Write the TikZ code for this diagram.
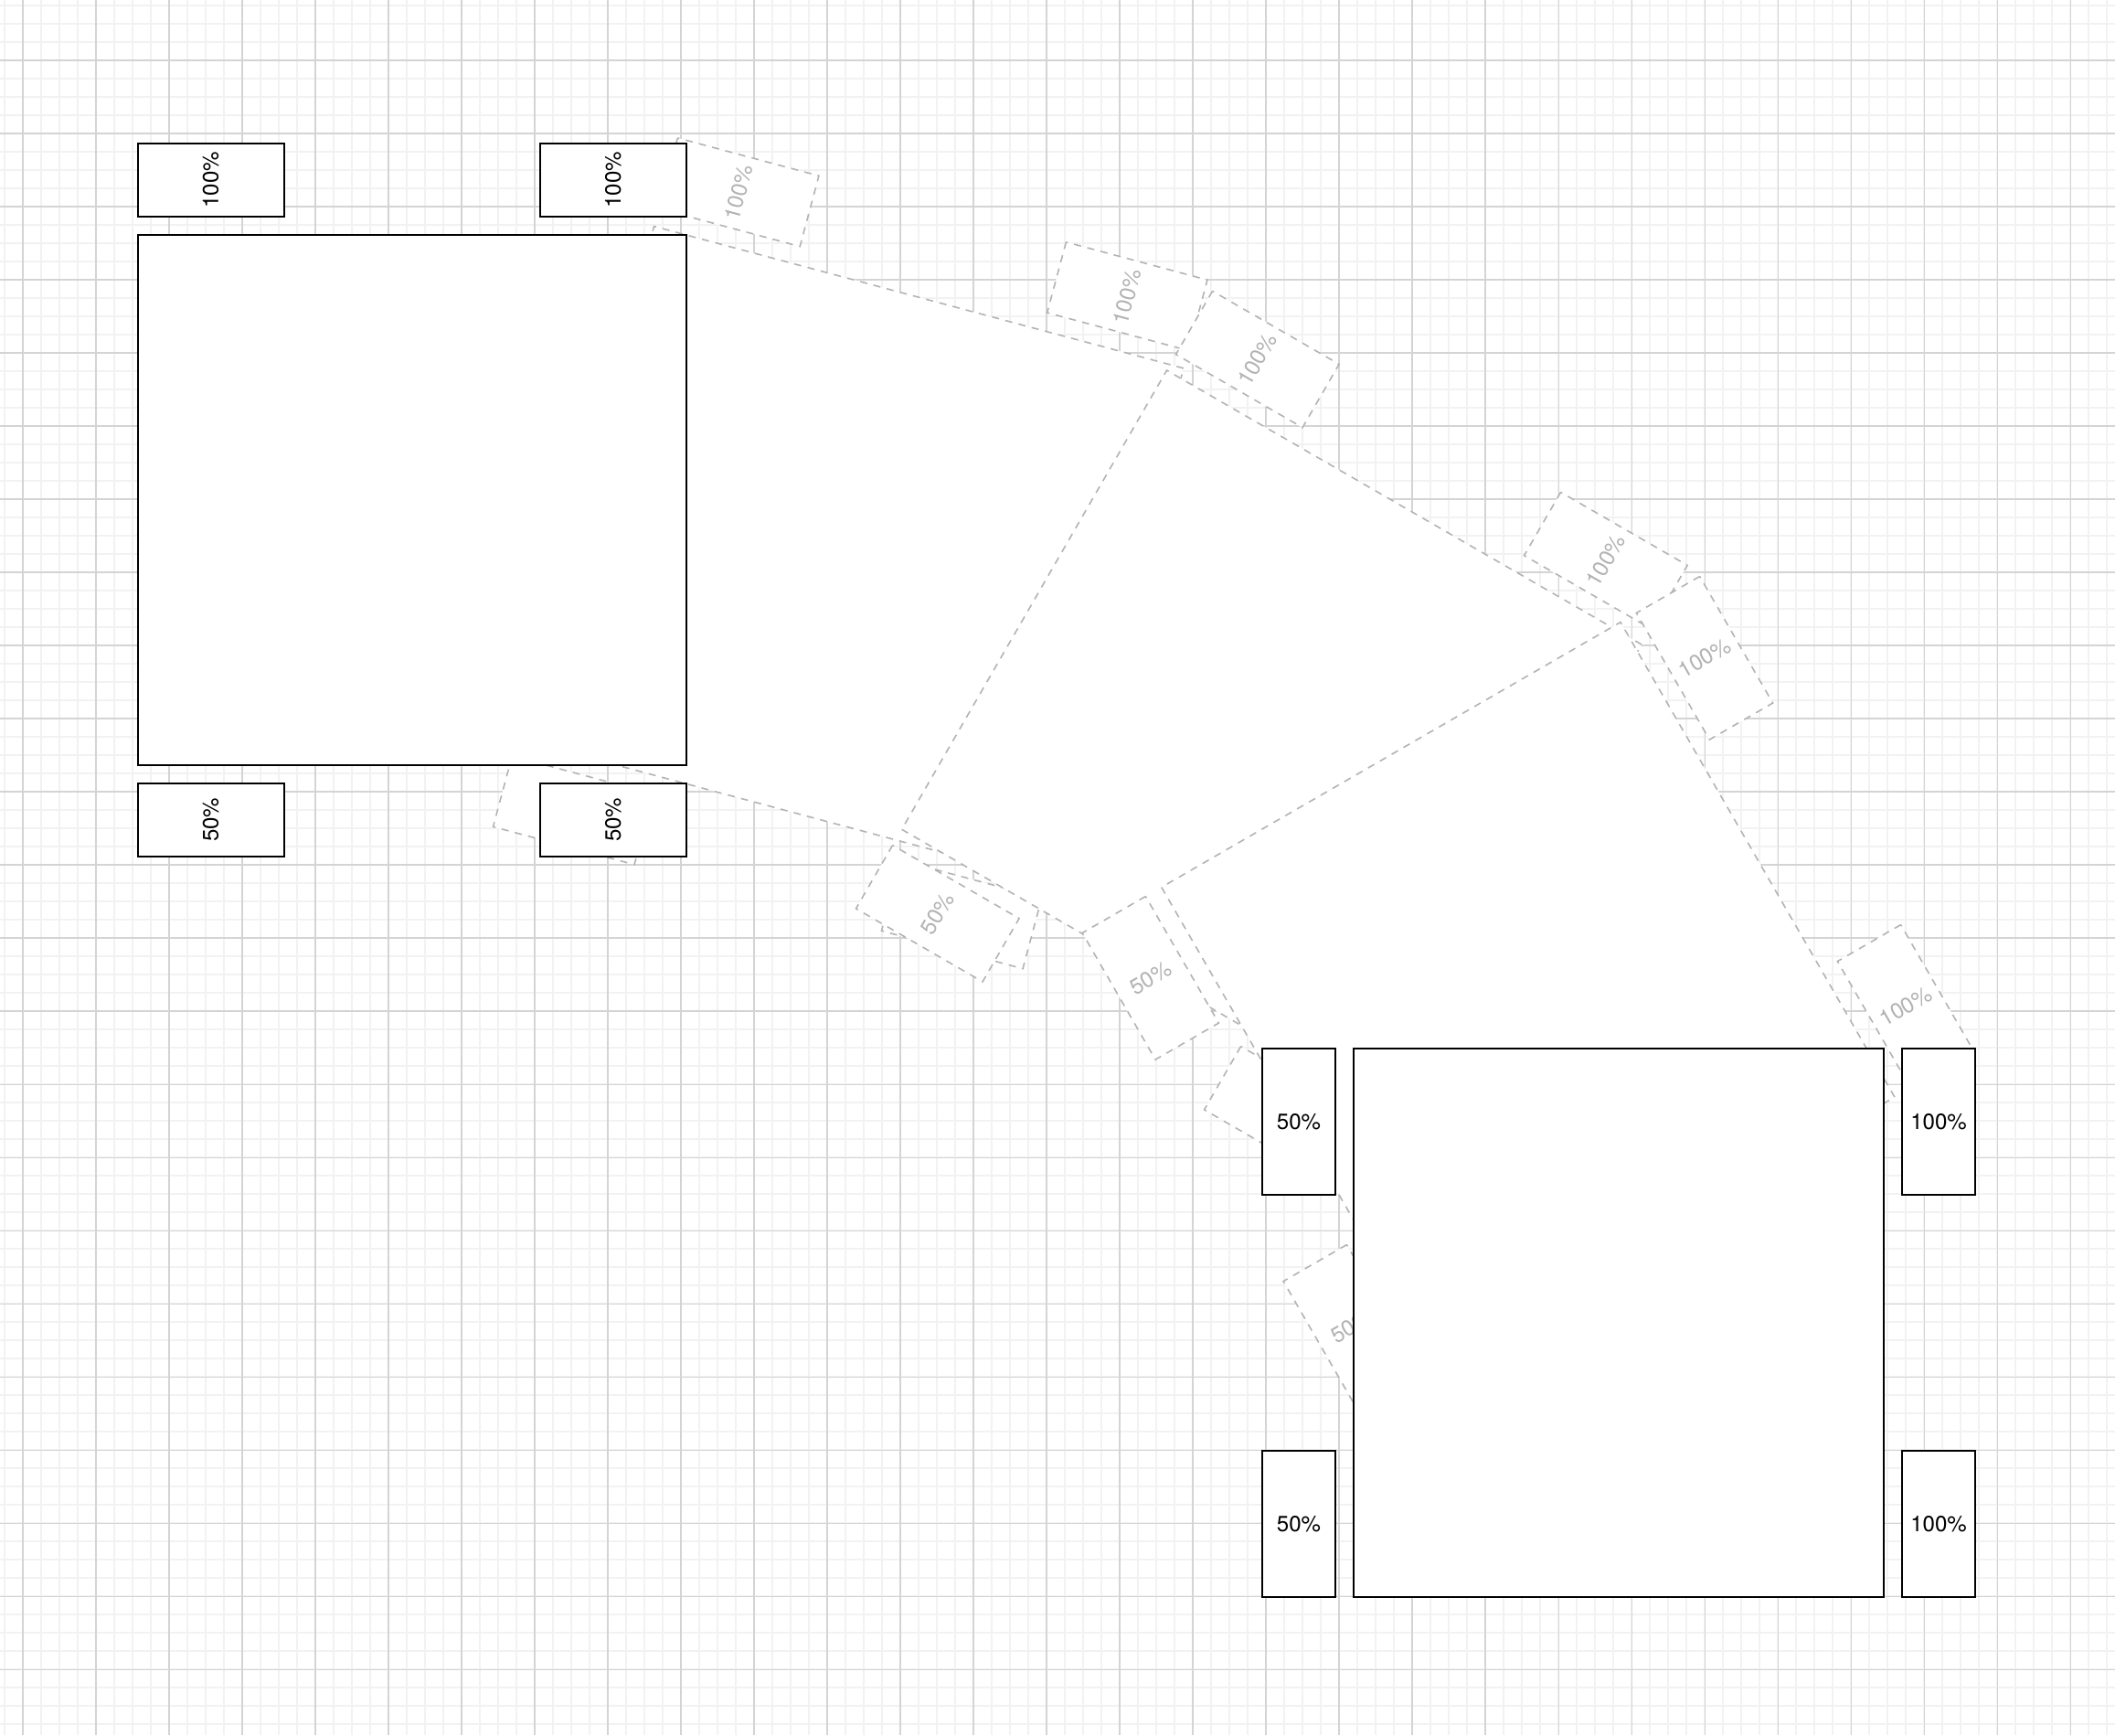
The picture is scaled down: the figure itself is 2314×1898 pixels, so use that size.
\documentclass[tikz,border=0pt]{standalone}
\usepackage{fontspec}
\setmainfont{TeX Gyre Heros}
\usepackage{xcolor}
\usepackage{tikz}
\definecolor{minorgrid}{HTML}{F2F2F2}
\definecolor{majorgrid}{HTML}{D4D4D4}
\definecolor{ghostgray}{HTML}{B3B3B3}
\tikzset{
    solid part/.style={draw=black, line width=1.15pt, fill=white, text=black},
    ghost part/.style={draw=ghostgray, dash pattern=on 4.5pt off 4pt, line width=0.9pt, fill=white, text=ghostgray},
    group part/.style={solid part},
    table box/.style={group part, minimum width=12cm, minimum height=11.6cm, inner sep=0pt},
    pct box/.style={group part, minimum width=1.6cm, minimum height=3.2cm, inner sep=0pt, rotate=90, font=\fontsize{13.7}{16}\selectfont},
    minor line/.style={draw=minorgrid, line width=0.9pt},
    major line/.style={draw=majorgrid, line width=0.6pt},
    pics/seat group/.style={code={
        \node[table box] (-table) at (300,290) {};
        \node[pct box] (-tl) at (80,-60) {100\%};
        \node[pct box] (-tr) at (520,-60) {100\%};
        \node[pct box] (-bl) at (80,640) {50\%};
        \node[pct box] (-br) at (520,640) {50\%};
    }}
}

\begin{document}
\begin{tikzpicture}[x=0.02cm, y=-0.02cm]
    \useasboundingbox (0,0) rectangle (2314,1898);
    \fill[white] (0,0) rectangle (2314,1898);

    % background grid
    \foreach \gx in {5,25,...,2305} \draw[minor line] (\gx,0) -- (\gx,1898);
    \foreach \gy in {6,26,...,1886} \draw[minor line] (0,\gy) -- (2314,\gy);
    \foreach \gx in {25,105,...,2265} \draw[major line] (\gx,0) -- (\gx,1898);
    \foreach \gy in {66,146,...,1826} \draw[major line] (0,\gy) -- (2314,\gy);

    % intermediate positions (ghosts)
    \begin{scope}[shift={(715.5,247.5)}, rotate=-15, transform shape, group part/.style={ghost part}]
        \pic (g15) {seat group};
    \end{scope}
    \begin{scope}[shift={(1276.5,405)}, rotate=-30, transform shape, group part/.style={ghost part}]
        \pic (g30) {seat group};
    \end{scope}
    \begin{scope}[shift={(1773,680.5)}, rotate=-60, transform shape, group part/.style={ghost part}]
        \pic (g60) {seat group};
    \end{scope}

    % start position
    \begin{scope}[shift={(150.7,256.7)}, transform shape]
        \pic (start) {seat group};
    \end{scope}

    % end position, turned by 90 degrees
    \begin{scope}[shift={(2061,1147)}, rotate=-90, transform shape]
        \pic (end) {seat group};
    \end{scope}
\end{tikzpicture}
\end{document}
